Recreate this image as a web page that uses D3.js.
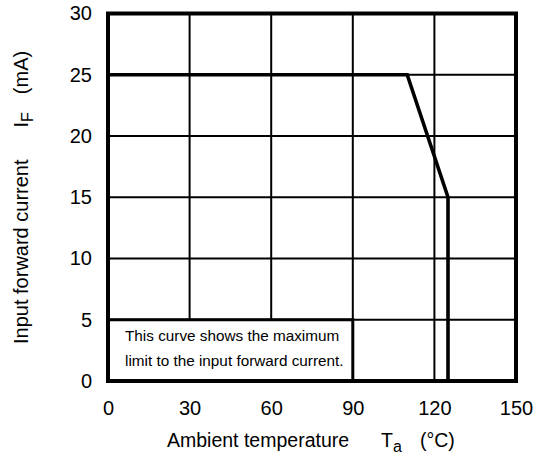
<!DOCTYPE html>
<html>
<head>
<meta charset="utf-8">
<script src="https://cdn.jsdelivr.net/npm/d3@7/dist/d3.min.js"></script>
<style>
  html, body { margin: 0; padding: 0; background: #fff; }
  svg { display: block; font-family: "Liberation Sans", Arial, Helvetica, sans-serif; }
</style>
</head>
<body>
<svg id="chart" width="540" height="461"></svg>
<script>
// ---- data ----
const xTickValues = [0, 30, 60, 90, 120, 150];
const yTickValues = [0, 5, 10, 15, 20, 25, 30];
const curveTemp = [0, 110, 125, 125];      // Ambient temperature Ta (°C)
const curveCurrent = [25, 25, 15, 0];      // Input forward current IF (mA)
const noteLines = ["This curve shows the maximum", "limit to the input forward current."];
const noteRegionT = [0, 90];   // note box spans Ta 0..90
const noteRegionI = [0, 5];    // and IF 0..5

// ---- layout ----
const svg = d3.select("#chart");
const plotL = 108, plotR = 516, plotT = 13.5, plotB = 381;
const x = d3.scaleLinear().domain([0, 150]).range([plotL, plotR]);
const y = d3.scaleLinear().domain([0, 30]).range([plotB, plotT]);

// grid lines
const grid = svg.append("g").attr("stroke", "#000").attr("stroke-width", 2);
grid.selectAll("line.v").data(xTickValues.slice(1, -1)).join("line")
  .attr("x1", d => x(d)).attr("x2", d => x(d))
  .attr("y1", y(0)).attr("y2", y(30));
grid.selectAll("line.h").data(yTickValues.slice(1, -1)).join("line")
  .attr("x1", x(0)).attr("x2", x(150))
  .attr("y1", d => y(d)).attr("y2", d => y(d));

// note box (blanks the grid beneath it)
svg.append("rect")
  .attr("x", x(noteRegionT[0])).attr("y", y(noteRegionI[1]))
  .attr("width", x(noteRegionT[1]) - x(noteRegionT[0]))
  .attr("height", y(noteRegionI[0]) - y(noteRegionI[1]))
  .attr("fill", "#fff").attr("stroke", "#000").attr("stroke-width", 3);
svg.append("g").selectAll("text").data(noteLines).join("text")
  .attr("x", x(0) + 17)
  .attr("y", (d, i) => 341 + i * 24.5)
  .attr("font-size", "15.3px")
  .attr("fill", "#000")
  .text(d => d);

// frame
svg.append("rect")
  .attr("x", x(0)).attr("y", y(30))
  .attr("width", x(150) - x(0)).attr("height", y(0) - y(30))
  .attr("fill", "none").attr("stroke", "#000").attr("stroke-width", 4);

// curve
const pts = curveTemp.map((t, i) => [t, curveCurrent[i]]);
svg.append("path")
  .datum(pts)
  .attr("d", d3.line().x(d => x(d[0])).y(d => y(d[1])))
  .attr("fill", "none").attr("stroke", "#000").attr("stroke-width", 3.6)
  .attr("stroke-linejoin", "miter");

// axes (labels only)
const xAxis = svg.append("g")
  .attr("transform", `translate(0,${plotB})`)
  .call(d3.axisBottom(x).tickValues(xTickValues).tickSize(0).tickPadding(20).tickFormat(d3.format("d")));
const yAxis = svg.append("g")
  .attr("transform", `translate(${plotL},0)`)
  .call(d3.axisLeft(y).tickValues(yTickValues).tickSize(0).tickPadding(16).tickFormat(d3.format("d")));
[xAxis, yAxis].forEach(g => {
  g.select(".domain").remove();
  g.selectAll("text").attr("font-size", "20px").attr("font-family", "'Liberation Sans', Arial, sans-serif").attr("fill", "#000");
});

// x axis title
const xt = svg.append("text")
  .attr("x", 167).attr("y", 447)
  .attr("font-size", "19.5px").attr("fill", "#000");
xt.append("tspan").text("Ambient temperature");
xt.append("tspan").attr("dx", 32).text("T");
xt.append("tspan").attr("dy", 5).attr("font-size", "16px").text("a");
xt.append("tspan").attr("dy", -5).attr("dx", 18).text("(°C)");

// y axis title
const yt = svg.append("text")
  .attr("transform", "translate(28,344) rotate(-90)")
  .attr("x", 0).attr("y", 0)
  .attr("font-size", "20px").attr("fill", "#000");
yt.append("tspan").text("Input forward current");
yt.append("tspan").attr("dx", 32).text("I");
yt.append("tspan").attr("dy", 5).attr("font-size", "16px").text("F");
yt.append("tspan").attr("dy", -5).attr("dx", 18).text("(mA)");
</script>
</body>
</html>
